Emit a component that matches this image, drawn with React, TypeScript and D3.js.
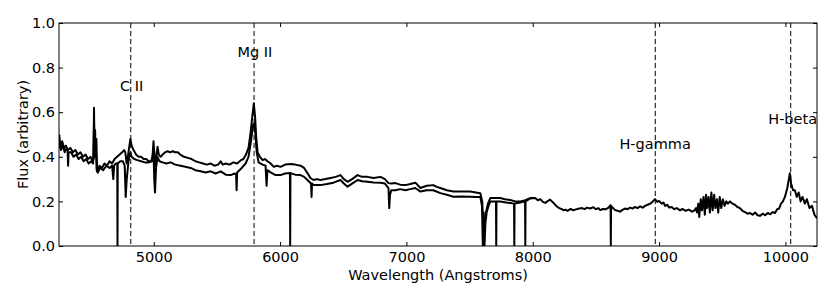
import React, { useEffect, useRef } from "react";
import * as d3 from "d3";

// [wavelength (Angstrom), flux]
const specUpper: [number, number][] = [
  [4252, 0.50], [4262, 0.44], [4275, 0.47], [4290, 0.44], [4305, 0.45], [4320, 0.43], [4340, 0.44],
  [4360, 0.42], [4380, 0.43], [4400, 0.41], [4420, 0.42], [4440, 0.40], [4460, 0.41], [4480, 0.39],
  [4500, 0.40], [4515, 0.38], [4524, 0.39], [4527, 0.62], [4531, 0.45], [4536, 0.52], [4540, 0.40],
  [4546, 0.48], [4552, 0.34], [4558, 0.33], [4570, 0.36], [4590, 0.35], [4610, 0.37], [4630, 0.36],
  [4650, 0.38], [4670, 0.37], [4690, 0.39], [4710, 0.40], [4730, 0.41], [4750, 0.42], [4765, 0.43],
  [4775, 0.42], [4785, 0.37], [4795, 0.40], [4805, 0.44], [4815, 0.48], [4825, 0.45], [4840, 0.43],
  [4860, 0.41], [4880, 0.40], [4900, 0.40], [4920, 0.39], [4940, 0.39], [4960, 0.38], [4980, 0.38],
  [4990, 0.40], [4998, 0.47], [5004, 0.42], [5010, 0.36], [5020, 0.40], [5030, 0.445], [5040, 0.41],
  [5055, 0.40], [5070, 0.41], [5090, 0.42], [5110, 0.425], [5130, 0.42], [5150, 0.425], [5170, 0.42],
  [5190, 0.42], [5210, 0.41], [5240, 0.40], [5270, 0.395], [5300, 0.39], [5330, 0.38], [5360, 0.375],
  [5390, 0.37], [5420, 0.365], [5450, 0.37], [5480, 0.36], [5510, 0.365], [5530, 0.38], [5545, 0.365],
  [5570, 0.37], [5600, 0.365], [5630, 0.375], [5660, 0.37], [5690, 0.385], [5710, 0.39], [5730, 0.41],
  [5750, 0.44], [5765, 0.50], [5780, 0.58], [5792, 0.64], [5802, 0.58], [5812, 0.48], [5822, 0.42],
  [5840, 0.40], [5862, 0.385], [5880, 0.39], [5900, 0.38], [5925, 0.37], [5950, 0.355], [5975, 0.36],
  [6004, 0.355], [6040, 0.365], [6083, 0.368], [6120, 0.365], [6162, 0.36], [6190, 0.35], [6217, 0.327],
  [6240, 0.305], [6265, 0.296], [6290, 0.30], [6320, 0.296], [6360, 0.30], [6400, 0.305], [6440, 0.31],
  [6478, 0.318], [6505, 0.30], [6534, 0.288], [6570, 0.30], [6613, 0.318], [6650, 0.31], [6692, 0.31],
  [6740, 0.305], [6794, 0.31], [6830, 0.30], [6858, 0.282], [6880, 0.28], [6913, 0.282], [6950, 0.275],
  [6992, 0.273], [7030, 0.278], [7071, 0.284], [7111, 0.26], [7160, 0.27], [7213, 0.273], [7240, 0.265],
  [7269, 0.26], [7320, 0.25], [7372, 0.244], [7440, 0.244], [7506, 0.244], [7550, 0.24], [7585, 0.237],
  [7600, 0.20], [7612, 0.05], [7620, 0.12], [7630, 0.15], [7645, 0.19], [7664, 0.215], [7700, 0.215],
  [7743, 0.215], [7780, 0.21], [7822, 0.206], [7860, 0.20], [7901, 0.20], [7941, 0.205], [7980, 0.215],
  [8020, 0.215],
];

const specLower: [number, number][] = [
  [4252, 0.46], [4265, 0.43], [4280, 0.45], [4295, 0.42], [4310, 0.44], [4318, 0.43], [4322, 0.36],
  [4326, 0.42], [4345, 0.42], [4365, 0.40], [4385, 0.41], [4405, 0.39], [4425, 0.40], [4445, 0.38],
  [4465, 0.39], [4485, 0.37], [4505, 0.38], [4520, 0.37], [4527, 0.55], [4533, 0.40], [4540, 0.46],
  [4548, 0.34], [4556, 0.33], [4575, 0.35], [4600, 0.34], [4625, 0.36], [4650, 0.35], [4670, 0.36],
  [4680, 0.30], [4686, 0.36], [4700, 0.37], [4711, 0.37], [4713, 0.0], [4715, 0.37], [4735, 0.38],
  [4755, 0.38], [4770, 0.36], [4778, 0.22], [4786, 0.30], [4800, 0.38], [4815, 0.42], [4825, 0.40],
  [4845, 0.39], [4870, 0.385], [4900, 0.38], [4930, 0.375], [4960, 0.375], [4985, 0.38], [4998, 0.43],
  [5004, 0.30], [5010, 0.24], [5018, 0.35], [5030, 0.40], [5045, 0.38], [5070, 0.375], [5100, 0.37],
  [5134, 0.375], [5170, 0.365], [5213, 0.36], [5250, 0.355], [5292, 0.35], [5330, 0.34], [5372, 0.335],
  [5410, 0.33], [5451, 0.335], [5490, 0.325], [5530, 0.335], [5570, 0.32], [5609, 0.318], [5640, 0.325],
  [5652, 0.32], [5656, 0.25], [5660, 0.33], [5688, 0.345], [5727, 0.37], [5750, 0.40], [5770, 0.47],
  [5785, 0.54], [5795, 0.55], [5805, 0.50], [5815, 0.42], [5830, 0.375], [5862, 0.365], [5885, 0.36],
  [5893, 0.27], [5900, 0.34], [5925, 0.33], [5964, 0.318], [6004, 0.318], [6040, 0.325], [6078, 0.327],
  [6080, 0.0], [6082, 0.327], [6120, 0.32], [6162, 0.318], [6190, 0.31], [6217, 0.296], [6245, 0.28],
  [6249, 0.22], [6253, 0.28], [6265, 0.273], [6320, 0.273], [6370, 0.278], [6423, 0.284], [6478, 0.296],
  [6505, 0.28], [6534, 0.266], [6570, 0.28], [6613, 0.296], [6650, 0.29], [6692, 0.288], [6740, 0.285],
  [6794, 0.284], [6830, 0.28], [6858, 0.26], [6864, 0.17], [6870, 0.23], [6880, 0.25], [6913, 0.25],
  [6950, 0.255], [6992, 0.25], [7030, 0.255], [7071, 0.26], [7111, 0.244], [7160, 0.25], [7213, 0.25],
  [7269, 0.237], [7320, 0.23], [7372, 0.221], [7440, 0.222], [7506, 0.221], [7550, 0.22], [7585, 0.22],
  [7598, 0.18], [7605, 0.0], [7612, 0.15], [7618, 0.0], [7625, 0.10], [7635, 0.15], [7650, 0.18],
  [7664, 0.20], [7700, 0.2], [7709, 0.2], [7711, 0.0], [7713, 0.2], [7743, 0.2], [7790, 0.195],
  [7822, 0.193], [7852, 0.19], [7854, 0.0], [7856, 0.19], [7901, 0.195], [7939, 0.2], [7941, 0.0],
  [7943, 0.2], [7980, 0.213], [8020, 0.215], [8040, 0.205], [8060, 0.21], [8080, 0.198], [8099, 0.193],
  [8115, 0.2], [8138, 0.208], [8155, 0.198], [8170, 0.19], [8185, 0.18], [8194, 0.176], [8210, 0.17],
  [8230, 0.165], [8245, 0.16], [8257, 0.163], [8275, 0.158], [8300, 0.166], [8320, 0.16], [8336, 0.163],
  [8360, 0.167], [8390, 0.17], [8410, 0.165], [8430, 0.172], [8455, 0.168], [8480, 0.174], [8500, 0.165],
  [8520, 0.17], [8534, 0.161], [8555, 0.166], [8580, 0.165], [8600, 0.172], [8616, 0.183], [8618, 0.0],
  [8620, 0.18], [8635, 0.17], [8650, 0.162], [8670, 0.158], [8692, 0.154], [8710, 0.162], [8730, 0.168],
  [8750, 0.165], [8771, 0.172], [8790, 0.168], [8810, 0.175], [8830, 0.17], [8850, 0.178], [8870, 0.172],
  [8889, 0.18], [8910, 0.185], [8930, 0.19], [8950, 0.2], [8968, 0.21], [8985, 0.198], [9000, 0.202],
  [9020, 0.19], [9035, 0.195], [9047, 0.18], [9065, 0.185], [9080, 0.172], [9100, 0.175], [9120, 0.165],
  [9140, 0.17], [9166, 0.16], [9185, 0.166], [9210, 0.158], [9235, 0.163], [9261, 0.154], [9280, 0.16],
  [9292, 0.17], [9300, 0.15], [9310, 0.19], [9318, 0.13], [9330, 0.21], [9340, 0.16], [9352, 0.22],
  [9362, 0.14], [9372, 0.23], [9380, 0.17], [9392, 0.22], [9402, 0.15], [9414, 0.24], [9424, 0.16],
  [9436, 0.23], [9446, 0.17], [9458, 0.21], [9468, 0.15], [9480, 0.22], [9492, 0.17], [9505, 0.21],
  [9518, 0.18], [9532, 0.2], [9545, 0.19], [9561, 0.2], [9580, 0.19], [9600, 0.185], [9620, 0.175],
  [9640, 0.17], [9660, 0.158], [9680, 0.152], [9700, 0.145], [9720, 0.148], [9740, 0.14], [9760, 0.15],
  [9780, 0.138], [9798, 0.135], [9820, 0.145], [9840, 0.138], [9860, 0.148], [9880, 0.142], [9900, 0.152],
  [9917, 0.148], [9935, 0.165], [9950, 0.168], [9965, 0.19], [9980, 0.2], [9996, 0.22], [10015, 0.26],
  [10035, 0.326], [10045, 0.28], [10060, 0.25], [10075, 0.25], [10090, 0.22], [10105, 0.24],
  [10120, 0.20], [10135, 0.22], [10154, 0.19], [10170, 0.21], [10190, 0.17], [10210, 0.18],
  [10230, 0.14], [10250, 0.125],
];

// emission lines: position, label, label anchor (wavelength, flux)
const lineNames = ["C II", "Mg II", "H-gamma", "H-beta"];
const lineWaves = [4818, 5794, 8970, 10042];
const labelWaves = [4733, 5662, 8686, 9864];
const labelFlux = [0.696, 0.849, 0.435, 0.547];

const xTicks = [5000, 6000, 7000, 8000, 9000, 10000];
const yTicks = [0, 0.2, 0.4, 0.6, 0.8, 1.0];

const FONT = "'DejaVu Sans', sans-serif";
const FS = "14.5px";

export default function App() {
  const ref = useRef<SVGSVGElement>(null);

  useEffect(() => {
    const width = 833;
    const height = 298;
    const margin = { top: 23, right: 16, bottom: 52, left: 59 };
    const innerWidth = width - margin.left - margin.right;
    const innerHeight = height - margin.top - margin.bottom;

    const svg = d3.select(ref.current);
    svg.selectAll("*").remove();

    const g = svg.append("g").attr("transform", `translate(${margin.left}, ${margin.top})`);

    const xScale = d3.scaleLinear().domain([4250, 10250]).range([0, innerWidth]);
    const yScale = d3.scaleLinear().domain([0, 1]).range([innerHeight, 0]);

    svg.append("defs").append("clipPath").attr("id", "plotclip")
      .append("rect").attr("width", innerWidth).attr("height", innerHeight);

    const line = d3.line<[number, number]>()
      .x(d => xScale(d[0]))
      .y(d => yScale(d[1]));

    const plot = g.append("g").attr("clip-path", "url(#plotclip)");

    [specUpper, specLower].forEach(s => {
      plot.append("path")
        .datum(s)
        .attr("fill", "none")
        .attr("stroke", "#000")
        .attr("stroke-width", 2)
        .attr("stroke-linejoin", "round")
        .attr("d", line);
    });

    // dashed emission line markers
    plot.selectAll("line.em").data(lineWaves).enter()
      .append("line")
      .attr("class", "em")
      .attr("x1", d => xScale(d))
      .attr("x2", d => xScale(d))
      .attr("y1", 0)
      .attr("y2", innerHeight)
      .attr("stroke", "#000")
      .attr("stroke-width", 1)
      .attr("stroke-dasharray", "5,3");

    g.selectAll("text.em").data(lineNames).enter()
      .append("text")
      .attr("class", "em")
      .attr("x", (d, i) => xScale(labelWaves[i]))
      .attr("y", (d, i) => yScale(labelFlux[i]))
      .style("font-family", FONT)
      .style("font-size", FS)
      .text(d => d);

    // axes with inward ticks on all four sides
    const styleAxis = (sel: d3.Selection<SVGGElement, unknown, null, undefined>) => {
      sel.select(".domain").remove();
      sel.selectAll(".tick line").attr("stroke", "#000");
      sel.selectAll("text").style("font-family", FONT).style("font-size", FS).attr("fill", "#000");
    };

    g.append("g").attr("transform", `translate(0, ${innerHeight})`)
      .call(d3.axisBottom(xScale).tickValues(xTicks).tickSizeInner(-4).tickSizeOuter(0).tickPadding(6).tickFormat(d3.format("d")))
      .call(styleAxis);
    g.append("g")
      .call(d3.axisTop(xScale).tickValues(xTicks).tickSizeInner(-4).tickSizeOuter(0).tickFormat(() => ""))
      .call(styleAxis);
    g.append("g")
      .call(d3.axisLeft(yScale).tickValues(yTicks).tickSizeInner(-4).tickSizeOuter(0).tickPadding(4).tickFormat(d3.format(".1f")))
      .call(styleAxis);
    g.append("g").attr("transform", `translate(${innerWidth}, 0)`)
      .call(d3.axisRight(yScale).tickValues(yTicks).tickSizeInner(-4).tickSizeOuter(0).tickFormat(() => ""))
      .call(styleAxis);

    g.append("rect")
      .attr("x", 0).attr("y", 0)
      .attr("width", innerWidth).attr("height", innerHeight)
      .attr("fill", "none")
      .attr("stroke", "#000")
      .attr("stroke-width", 1);

    // axis titles
    svg.append("text")
      .attr("x", margin.left + innerWidth / 2)
      .attr("y", 280)
      .attr("text-anchor", "middle")
      .style("font-family", FONT)
      .style("font-size", FS)
      .text("Wavelength (Angstroms)");

    svg.append("text")
      .attr("transform", `translate(27.5, ${margin.top + innerHeight / 2}) rotate(-90)`)
      .attr("text-anchor", "middle")
      .style("font-family", FONT)
      .style("font-size", FS)
      .text("Flux (arbitrary)");
  }, []);

  return (
    <svg ref={ref} width={833} height={298} style={{ position: "absolute", left: 0, top: 0 }}></svg>
  );
}
